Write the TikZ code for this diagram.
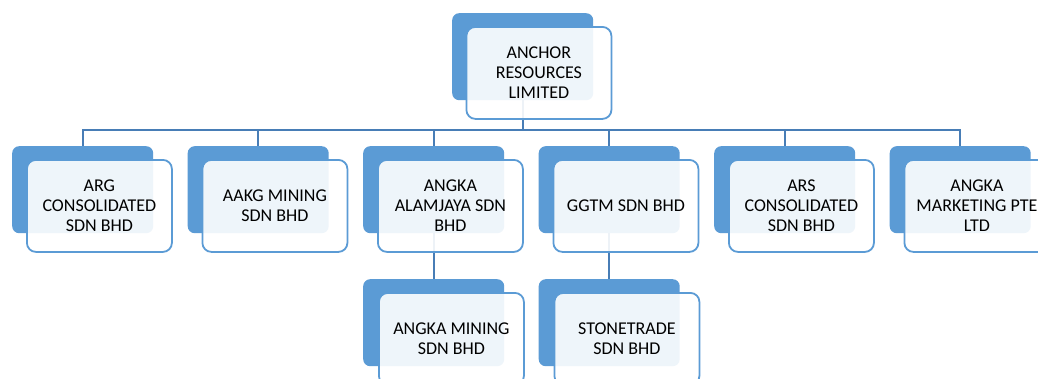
\documentclass[tikz,border=0pt]{standalone}
\usepackage{fontspec}
\setmainfont{Carlito}
\usetikzlibrary{calc}
\definecolor{backblue}{RGB}{91,155,213}
\definecolor{edgeblue}{RGB}{91,155,213}
\definecolor{connblue}{RGB}{72,125,182}
\definecolor{frontfill}{RGB}{255,255,255}
\tikzset{
  backbox/.style={rectangle, rounded corners=7pt, minimum width=141pt, minimum height=87pt,
    fill=backblue, draw=none, anchor=north west, inner sep=0pt},
  frontbox/.style={rectangle, rounded corners=9pt, minimum width=145pt, minimum height=92pt,
    fill=frontfill, fill opacity=0.9, text opacity=1, draw=edgeblue, draw opacity=1,
    line width=1.8pt, anchor=north west, inner sep=0pt, align=center,
    font=\fontsize{18}{20}\selectfont, text=black},
  conn/.style={draw=connblue, line width=2pt}
}
\begin{document}
\begin{tikzpicture}[x=1pt,y=-1pt]
\useasboundingbox (0,0) rectangle (1038,378);
\clip (0,0) rectangle (1038,378);
\fill[white] (0,0) rectangle (1038,378);
% coordinates
\coordinate (bar) at (522,130);
% back boxes
\node[backbox] (b0) at (452,13) {};
\node[backbox] (b1) at (12,146) {};
\node[backbox] (b2) at (187.5,146) {};
\node[backbox] (b3) at (363,146) {};
\node[backbox] (b4) at (538.5,146) {};
\node[backbox] (b5) at (714,146) {};
\node[backbox] (b6) at (889.5,146) {};
\node[backbox] (b7) at (363,279) {};
\node[backbox] (b8) at (538.5,279) {};
% connectors (behind front boxes)
\foreach \i in {1,...,6}{
  \draw[conn] (b0.south) -- (b0.south |- bar) -| (b\i.north);
}
\draw[conn] (b3.south) -- (b7.north);
\draw[conn] (b4.south) -- (b8.north);
% front boxes
\node[frontbox] (f0) at ($(b0.north west)+(13.5,13)$) {ANCHOR\\RESOURCES\\LIMITED};
\node[frontbox] (f1) at ($(b1.north west)+(14,13)$) {ARG\\CONSOLIDATED\\SDN BHD};
\node[frontbox] (f2) at ($(b2.north west)+(14,13)$) {AAKG MINING\\SDN BHD};
\node[frontbox] (f3) at ($(b3.north west)+(14,13)$) {ANGKA\\ALAMJAYA SDN\\BHD};
\node[frontbox] (f4) at ($(b4.north west)+(14,13)$) {GGTM SDN BHD};
\node[frontbox] (f5) at ($(b5.north west)+(14,13)$) {ARS\\CONSOLIDATED\\SDN BHD};
\node[frontbox] (f6) at ($(b6.north west)+(14,13)$) {ANGKA\\MARKETING PTE\\LTD};
\node[frontbox] (f7) at ($(b7.north west)+(15,13)$) {ANGKA MINING\\SDN BHD};
\node[frontbox] (f8) at ($(b8.north west)+(15,13)$) {STONETRADE\\SDN BHD};
\end{tikzpicture}
\end{document}
